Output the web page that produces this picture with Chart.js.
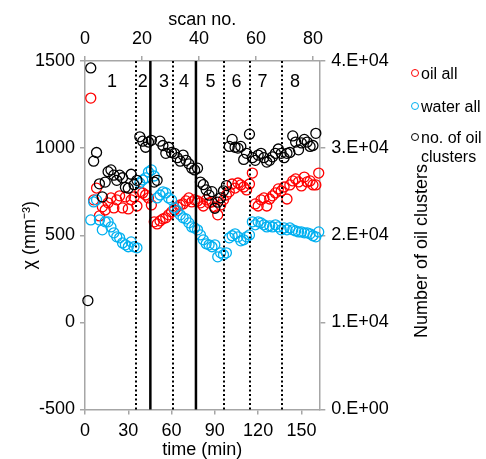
<!DOCTYPE html>
<html>
<head>
<meta charset="utf-8">
<script src="https://cdn.jsdelivr.net/npm/chart.js@4"></script>
<style>
body { margin: 0; background: #fff; }
#wrap { position: relative; width: 486px; height: 459px; }
.leg { position: absolute; left: 411px; font: 16px "Liberation Sans", Arial, sans-serif; color: #000; line-height: 19px; }
.leg i { position: absolute; left: 0; top: 5px; width: 6px; height: 6px; border: 1.5px solid; border-radius: 50%; }
.leg span { display: block; margin-left: 10px; }
</style>
</head>
<body>
<div id="wrap">
  <canvas id="chart" width="486" height="459"></canvas>
  <div class="leg" style="top:64px"><i style="border-color:#ff0000"></i><span>oil all</span></div>
  <div class="leg" style="top:97px"><i style="border-color:#00b0f0"></i><span>water all</span></div>
  <div class="leg" style="top:128px"><i style="border-color:#000"></i><span>no. of oil<br>clusters</span></div>
</div>
<script>
// time of each scan (min)
const times = [2, 4, 6, 8, 10, 12, 14, 16, 18, 20, 22, 24, 26, 28, 30, 32, 34, 36, 38, 40,
  42, 44, 46, 48, 50, 52, 54, 56, 58, 60, 62, 64, 66, 68, 70, 72, 74, 76, 78, 80,
  82, 84, 86, 88, 90, 92, 94, 96, 98, 100, 102, 104, 106, 108, 110, 112, 114, 116, 118, 120,
  122, 124, 126, 128, 130, 132, 134, 136, 138, 140, 142, 144, 146, 148, 150, 152, 154, 156, 158, 160, 162];

// oil all, X (mm^-3)
const oilAll = [null, 1287, 703, 771, 611, 663, 645, 686, 714, 657, 703,
  726, 657, 720, 651, 703, 720, 668, 749, 743, 731,
  714, 674, 577, 565, 582, 594, 600, 617, 634, 645,
  663, 674, 680, 697, 714, 691, 703, 697, 686, 668,
  703, 686, 691, 663, 617, 674, 703, 731, 749, 794,
  771, 800, 789, 777, 760, 794, 857, 680, 668, 703,
  714, 668, 708, 726, 743, 766, 754, 777, 708, 789,
  812, 823, 806, 783, 834, 806, 812, 789, 789, 857];

// water all, X (mm^-3)
const waterAll = [null, 588, 691, 703, 588, 531, 577, 577, 548, 514, 491,
  485, 456, 445, 434, 462, 434, 428, 800, 817, 829,
  863, 875, 840, 714, 731, 749, 743, 714, 703, 657,
  640, 617, 600, 594, 571, 548, 542, 531, 502, 474,
  451, 445, 434, 445, 376, 399, 388, 399, 485, 497,
  508, 491, 468, 474, 491, 502, 577, 560, 577, 571,
  560, 548, 554, 548, 560, 548, 531, 542, 531, 542,
  531, 525, 519, 519, 514, 514, 508, 497, 491, 519];

// number of oil clusters (right axis)
const oilClusters = [12500, 39200, 28500, 29500, 25900, 24400, 26100, 27300, 27500, 26900,
  26300, 26900, 26600, 25500, 25400, 27000, 25800, 26300, 31300, 30800,
  30100, 30700, 30900, 26100, 26300, 30800, 30300, 29400, 30100, 29500,
  29400, 28900, 28500, 29200, 28600, 28200, 27700, 27500, 27700, 26100,
  25800, 25200, 24600, 25000, 23100, 23800, 24300, 25100, 25700, 30200,
  31000, 30100, 30000, 30200, 28700, 29400, 31600, 28900, 28600, 29200,
  29400, 28900, 28400, 28600, 29000, 29400, 29900, 29400, 28900, 29400,
  29500, 31400, 30700, 29800, 30600, 31000, 30700, 30200, 30300, 31700, null];

// region boundaries (min) and region numbers
const dottedLines = [35.3, 61.2, 96.5, 114.5, 136.3];
const solidLines = [45.3, 76.9];
const regionLabels = ['1', '2', '3', '4', '5', '6', '7', '8'];
const regionPos = [18.7, 40, 54.7, 68.6, 87, 105, 123, 145.5];
const regionLabelLevel = 1378;
const rightTitle = 'Number of oil clusters';

const grey = '#a6a6a6';
const fontFamily = '"Liberation Sans", Arial, sans-serif';
Chart.defaults.font.family = fontFamily;
Chart.defaults.font.size = 18;
Chart.defaults.color = '#000';

function pts(ys) {
  return times.map((t, i) => ({ x: t, y: ys[i] }));
}

function axis(extra) {
  return Object.assign({
    type: 'linear',
    grid: { drawOnChartArea: false, tickLength: 5, color: grey, lineWidth: 1.5 },
    border: { color: grey, width: 1.5 },
  }, extra);
}

const regionsPlugin = {
  id: 'regions',
  afterDatasetsDraw(chart) {
    const { ctx, chartArea, scales } = chart;
    const xs = scales.x, ys = scales.y;
    ctx.save();
    ctx.strokeStyle = '#000';
    ctx.lineWidth = 2;
    ctx.setLineDash([2, 2.5]);
    dottedLines.forEach(t => {
      const px = Math.round(xs.getPixelForValue(t));
      ctx.beginPath();
      ctx.moveTo(px, chartArea.top);
      ctx.lineTo(px, chartArea.bottom);
      ctx.stroke();
    });
    ctx.setLineDash([]);
    ctx.lineWidth = 2.5;
    solidLines.forEach(t => {
      const px = xs.getPixelForValue(t);
      ctx.beginPath();
      ctx.moveTo(px, chartArea.top);
      ctx.lineTo(px, chartArea.bottom);
      ctx.stroke();
    });
    ctx.fillStyle = '#000';
    ctx.font = '18px ' + fontFamily;
    ctx.textAlign = 'center';
    ctx.textBaseline = 'middle';
    regionLabels.forEach((lab, i) => {
      ctx.fillText(lab, xs.getPixelForValue(regionPos[i]), ys.getPixelForValue(regionLabelLevel));
    });
    // secondary axis title, reading bottom to top
    ctx.translate(chartArea.right + 103, 251);
    ctx.rotate(-Math.PI / 2);
    ctx.fillText(rightTitle, 0, 0);
    ctx.restore();
  }
};

const mk = (label, data, color, yAxisID, order) => ({
  label: label,
  data: pts(data),
  xAxisID: 'x',
  yAxisID: yAxisID,
  borderColor: color,
  backgroundColor: 'rgba(0,0,0,0)',
  pointBorderColor: color,
  pointBackgroundColor: 'rgba(0,0,0,0)',
  pointRadius: 5,
  pointBorderWidth: 1.3,
  showLine: false,
  clip: false,
  order: order
});

new Chart(document.getElementById('chart'), {
  type: 'scatter',
  data: {
    datasets: [
      mk('oil all', oilAll, '#ff0000', 'y', 3),
      mk('water all', waterAll, '#00b0f0', 'y', 2),
      mk('no. of oil clusters', oilClusters, '#000000', 'y2', 1)
    ]
  },
  options: {
    responsive: false,
    animation: false,
    devicePixelRatio: 1,
    layout: { padding: { left: 0, top: 0, bottom: 0, right: 52.7 } },
    plugins: { legend: { display: false }, tooltip: { enabled: false } },
    scales: {
      x: axis({
        position: 'bottom', min: 0, max: 162.4,
        ticks: { stepSize: 30, includeBounds: false, padding: 6, callback: v => String(v) },
        title: { display: true, text: 'time (min)', font: { size: 18, lineHeight: 1 }, padding: { top: 0, bottom: 0 } },
        afterFit(s) { s.height = 49.5; }
      }),
      x2: axis({
        position: 'top', min: 0, max: 82.2,
        ticks: { stepSize: 20, includeBounds: false, padding: 6, callback: v => String(v) },
        title: { display: true, text: 'scan no.', font: { size: 18, lineHeight: 1 }, padding: { top: 11, bottom: 0 } },
        afterFit(s) { s.height = 61; }
      }),
      y: axis({
        position: 'left', min: -500, max: 1500,
        ticks: { stepSize: 500, padding: 5, callback: v => String(v) },
        title: { display: true, text: 'χ (mm⁻³)', font: { size: 18 }, padding: { top: 19, bottom: 0 } },
        afterFit(s) { s.width = 85; }
      }),
      y2: axis({
        position: 'right', min: 0, max: 40000,
        grid: { drawOnChartArea: false, tickLength: 6, color: grey, lineWidth: 1.5 },
        ticks: {
          stepSize: 10000, padding: 6,
          callback: v => v === 0 ? '0.E+00' : (v / 10000) + '.E+04'
        },
        afterFit(s) { s.width = 114; }
      })
    }
  },
  plugins: [regionsPlugin]
});
</script>
</body>
</html>
